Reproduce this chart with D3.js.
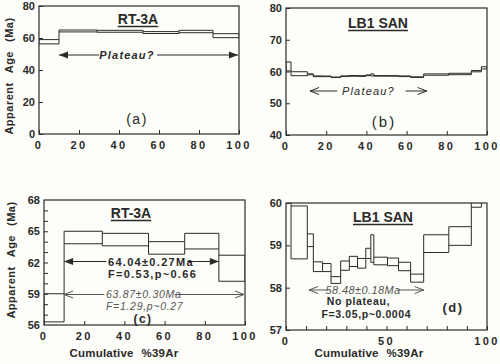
<!DOCTYPE html>
<html><head><meta charset="utf-8">
<script src="https://cdn.jsdelivr.net/npm/d3@7"></script>
<style>
body{margin:0;background:#fdfdf9;}
svg{display:block;font-family:"Liberation Sans",Arial,sans-serif;}
</style></head>
<body><svg id="c" width="500" height="364"></svg>
<script>
// ---- data ----
const rtEdges = [0, 10, 29, 52, 70, 87, 100];
const rtLow   = [56.3, 63.8, 63.6, 62.8, 63.3, 60.2];
const rtHigh  = [59.0, 65.0, 64.8, 64.0, 64.8, 62.7];

const lbEdges = [0, 2.5, 10.6, 13.6, 18.2, 22.4, 27.2, 31.5, 35.6, 39.7, 42.2, 43.7, 50.5, 56.0, 62.0, 68.5, 81.0, 92.2, 97.2, 100];
const lbLow   = [60.2, 58.68, 58.97, 58.38, 58.38, 58.10, 58.41, 58.50, 58.46, 58.69, 58.60, 58.54, 58.52, 58.40, 58.13, 58.83, 59.00, 59.90, 60.8];
const lbHigh  = [63.0, 59.93, 59.27, 58.61, 58.57, 58.26, 58.63, 58.74, 58.69, 58.93, 59.25, 58.72, 58.70, 58.60, 58.32, 59.25, 59.44, 60.30, 61.5];

const ticksA = [0, 20, 40, 60, 80];
const ticksB = [40, 50, 60, 70, 80];
const ticksC = [56, 59, 62, 65, 68];
const ticksD = [57, 58, 59, 60];
const xTicks20 = [0, 20, 40, 60, 80, 100];
const xTicksD = [0, 50, 100];

const svg = d3.select("#c");
const ink = "#2a2a2a";

function panel(o){
  const x = d3.scaleLinear().domain([0,100]).range([o.x0,o.x1]);
  const y = d3.scaleLinear().domain(o.yd).range([o.y1,o.y0]);
  const g = svg.append("g");
  const cid = "clip"+o.id;
  svg.append("clipPath").attr("id",cid).append("rect")
    .attr("x",o.x0).attr("y",o.y0).attr("width",o.x1-o.x0).attr("height",o.y1-o.y0);
  // step spectrum: top and bottom steps + connecting verticals
  const n = o.low.length;
  let p = "";
  for(let i=0;i<n;i++){
    const xa=x(o.edges[i]), xb=x(o.edges[i+1]);
    p += `M${xa},${y(o.high[i])}H${xb}M${xa},${y(o.low[i])}H${xb}`;
  }
  for(let i=0;i<=n;i++){
    const lo = Math.min(i>0?o.low[i-1]:Infinity, i<n?o.low[i]:Infinity);
    const hi = Math.max(i>0?o.high[i-1]:-Infinity, i<n?o.high[i]:-Infinity);
    p += `M${x(o.edges[i])},${y(lo)}V${y(hi)}`;
  }
  g.append("path").attr("clip-path",`url(#${cid})`).attr("d",p)
    .attr("fill","none").attr("stroke",ink).attr("stroke-width",1);
  // frame
  g.append("rect").attr("x",o.x0).attr("y",o.y0).attr("width",o.x1-o.x0).attr("height",o.y1-o.y0)
    .attr("fill","none").attr("stroke",ink).attr("stroke-width",1.2);
  // axes (ticks inside)
  const xa = d3.axisBottom(x).tickValues(o.xMinor||o.xt).tickSize(-4).tickFormat("");
  g.append("g").attr("transform",`translate(0,${o.y1})`).call(xa)
    .call(s=>s.select(".domain").remove()).selectAll("line").attr("stroke",ink);
  const ya = d3.axisLeft(y).tickValues(o.yMinor||o.yt).tickSize(-4).tickFormat("");
  g.append("g").attr("transform",`translate(${o.x0},0)`).call(ya)
    .call(s=>s.select(".domain").remove()).selectAll("line").attr("stroke",ink);
  // tick labels
  g.selectAll(".xl").data(o.xt).join("text")
    .attr("x",d=>x(d)).attr("y",o.y1+15).attr("text-anchor","middle")
    .attr("font-size",11).attr("font-weight","bold").attr("letter-spacing",2.4).attr("fill",ink)
    .text(d=>d);
  g.selectAll(".yl").data(o.yt).join("text")
    .attr("x",o.x0-4).attr("y",d=>y(d)+4).attr("text-anchor","end")
    .attr("font-size",11).attr("font-weight","bold").attr("fill",ink)
    .text(d=>d);
  return {x,y,g};
}

function arrowHead(g,tx,ty,dir,filled,col){
  const L=9,H=3.5;
  if(filled){
    g.append("path").attr("d",`M${tx},${ty}L${tx-dir*L},${ty-H}L${tx-dir*L},${ty+H}Z`).attr("fill",col||ink);
  } else {
    g.append("path").attr("d",`M${tx-dir*L},${ty-H}L${tx},${ty}L${tx-dir*L},${ty+H}`)
      .attr("fill","none").attr("stroke",col||ink).attr("stroke-width",1);
  }
}
function arrowLine(g,xa,xb,yy,col){
  g.append("line").attr("x1",xa).attr("x2",xb).attr("y1",yy).attr("y2",yy)
    .attr("stroke",col||ink).attr("stroke-width",1);
}
function title(g,t,cx,cy,fs){
  const tx = g.append("text").attr("x",cx).attr("y",cy).attr("text-anchor","middle")
    .attr("font-size",fs).attr("font-weight","bold").attr("fill",ink).text(t);
  const w = tx.node().getComputedTextLength();
  g.append("line").attr("x1",cx-w/2).attr("x2",cx+w/2).attr("y1",cy+2.5).attr("y2",cy+2.5)
    .attr("stroke",ink).attr("stroke-width",1.3);
}
function txt(g,t,x,y,o){
  const e=g.append("text").attr("x",x).attr("y",y).attr("text-anchor",o.anchor||"middle")
    .attr("font-size",o.fs||11).attr("font-weight",o.bold?"bold":"normal")
    .attr("font-style",o.italic?"italic":"normal").attr("fill",o.col||ink)
    .attr("letter-spacing",o.ls||0).text(t);
  return e;
}
function words(g,parts,gap,tx,ty,o){
  const e=g.append("text").attr("text-anchor","middle")
    .attr("transform",`translate(${tx},${ty}) rotate(${o.rot||0})`)
    .attr("font-size",o.fs).attr("font-weight","bold").attr("fill",ink).attr("letter-spacing",o.ls||0);
  parts.forEach((w,i)=>e.append("tspan").attr("dx",i?gap:0).text(w));
}

// (a)
const A = panel({id:"a",x0:39,x1:239,y0:6,y1:134,yd:[0,80],edges:rtEdges,low:rtLow,high:rtHigh,xt:xTicks20,yt:ticksA});
title(A.g,"RT-3A",138,24,14);
txt(A.g,"(a)",137,124,{fs:14,ls:1.5});
{
  const yy=55; arrowLine(A.g,A.x(10),A.x(30),yy); arrowLine(A.g,A.x(59),A.x(99.5),yy);
  arrowHead(A.g,A.x(10),yy,-1,true); arrowHead(A.g,A.x(99.5),yy,1,true);
  txt(A.g,"Plateau?",A.x(44),yy+4,{fs:11,bold:true,italic:true,ls:1.2});
}
// (b)
const B = panel({id:"b",x0:286,x1:487,y0:8,y1:135,yd:[40,80],edges:lbEdges,low:lbLow,high:lbHigh,xt:xTicks20,yt:ticksB});
title(B.g,"LB1 SAN",378,28,14);
txt(B.g,"(b)",384,127,{fs:15,ls:2});
{
  const yy=91; arrowLine(B.g,B.x(12),B.x(25.5),yy); arrowLine(B.g,B.x(59.5),B.x(70),yy);
  arrowHead(B.g,B.x(12),yy,-1,false); arrowHead(B.g,B.x(70),yy,1,false);
  txt(B.g,"Plateau?",B.x(41),yy+4,{fs:11,italic:true,ls:1.2});
}
// (c)
const C = panel({id:"c",x0:44,x1:245,y0:200,y1:325,yd:[56,68],edges:rtEdges,low:rtLow,high:rtHigh,xt:xTicks20,yt:ticksC,
  yMinor:d3.range(57,68)});
title(C.g,"RT-3A",131,218,14);
txt(C.g,"(c)",143,323,{fs:12,bold:true,ls:1.5});
{
  const yy=261.5; arrowLine(C.g,C.x(10),C.x(31),yy); arrowLine(C.g,C.x(71.5),C.x(87),yy);
  arrowHead(C.g,C.x(10),yy,-1,true); arrowHead(C.g,C.x(87),yy,1,true);
  txt(C.g,"64.04\u00b10.27Ma",108,yy+4,{anchor:"start",fs:11,bold:true,ls:1.3});
  txt(C.g,"F=0.53,p~0.66",108,yy+16,{anchor:"start",fs:11,bold:true,ls:1.3});
  const y2=294.5; const gc="#555";
  arrowLine(C.g,C.x(10),C.x(30),y2,gc); arrowLine(C.g,C.x(65),C.x(99.5),y2,gc);
  arrowHead(C.g,C.x(10),y2,-1,false,gc); arrowHead(C.g,C.x(99.5),y2,1,false,gc);
  txt(C.g,"63.87\u00b10.30Ma",106,y2+3.5,{anchor:"start",fs:10.5,italic:true,col:gc,ls:0.7});
  txt(C.g,"F=1.29,p~0.27",106,y2+15.5,{anchor:"start",fs:10.5,italic:true,col:gc,ls:0.7});
}
// (d)
const D = panel({id:"d",x0:286,x1:487,y0:203,y1:330,yd:[57,60],edges:lbEdges,low:lbLow,high:lbHigh,xt:xTicksD,yt:ticksD,
  xMinor:d3.range(0,101,10)});
title(D.g,"LB1 SAN",383,222,14);
txt(D.g,"(d)",453,312,{fs:13,bold:true,ls:1.5});
{
  const yy=290; const gc="#555";
  arrowLine(D.g,D.x(11.5),D.x(21),yy,gc); arrowLine(D.g,D.x(55.5),D.x(68.5),yy,gc);
  arrowHead(D.g,D.x(11.5),yy,-1,false,gc); arrowHead(D.g,D.x(68.5),yy,1,false,gc);
  txt(D.g,"58.48\u00b10.18Ma",D.x(38.3),yy+4,{fs:11,italic:true,col:gc,ls:0.4});
  txt(D.g,"No plateau,",D.x(36),yy+15,{fs:10.5,bold:true,ls:0.6});
  txt(D.g,"F=3.05,p~0.0004",D.x(40),yy+28,{fs:10.5,bold:true,ls:0.6});
}
// axis titles
words(svg,["Apparent","Age","(Ma)"],9,13,76,{fs:11,ls:0.5,rot:-90});
words(svg,["Apparent","Age","(Ma)"],9,15,260,{fs:11,ls:0.5,rot:-90});
words(svg,["Cumulative","%39Ar"],8,124,357,{fs:11.5,ls:0.2});
words(svg,["Cumulative","%39Ar"],8,369,357,{fs:11.5,ls:0.2});
</script></body></html>
